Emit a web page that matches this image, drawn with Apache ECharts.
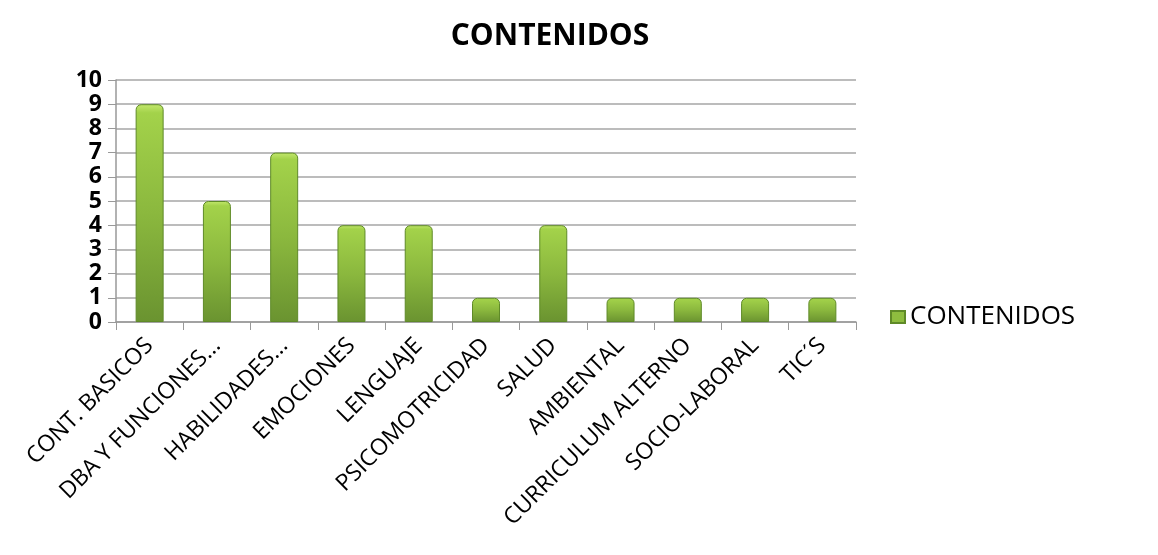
<!DOCTYPE html>
<html><head><meta charset="utf-8">
<script src="https://cdn.jsdelivr.net/npm/echarts@6/dist/echarts.min.js"></script>
<style>html,body{margin:0;padding:0;background:#fff}#c{width:1158px;height:555px}</style>
</head><body><div id="c"></div>
<script>
const categories = ['CONT. BASICOS','DBA Y FUNCIONES...','HABILIDADES...','EMOCIONES','LENGUAJE','PSICOMOTRICIDAD','SALUD','AMBIENTAL','CURRICULUM ALTERNO','SOCIO-LABORAL','TIC\u00B4S'];
const values = [9,5,7,4,4,1,4,1,1,1,1];
const seriesName = 'CONTENIDOS';
const titleText = 'CONTENIDOS';

const chart = echarts.init(document.getElementById('c'));
const barGrad = new echarts.graphic.LinearGradient(0,0,0,1,[
  {offset:0,color:'#c4e86e'},
  {offset:0.04,color:'#a3d24a'},
  {offset:0.5,color:'#8bb83e'},
  {offset:1,color:'#6a9330'}
]);
chart.setOption({
  backgroundColor:'#fff',
  animation:false,
  title:{text:titleText,left:545,textAlign:'center',top:16,textStyle:{fontFamily:'Open Sans',fontWeight:'bold',fontSize:30,color:'#000'}},
  legend:{data:[seriesName],left:885,top:299,itemWidth:14,itemHeight:12,itemGap:3,
    icon:'rect',itemStyle:{color:'#8ebd3f'},textStyle:{fontFamily:'Open Sans',fontSize:26,color:'#000'}},
  grid:{left:116,right:302,top:80,bottom:233,containLabel:false},
  xAxis:{type:'category',data:categories,
    axisLine:{lineStyle:{color:'#999',width:1.5}},
    axisTick:{show:true,alignWithLabel:false,length:8,lineStyle:{color:'#999'}},
    axisLabel:{rotate:45,interval:0,margin:20,fontFamily:'Open Sans',fontSize:23,color:'#000'}},
  yAxis:{type:'value',min:0,max:10,interval:1,
    axisLine:{show:true,lineStyle:{color:'#999',width:1.5}},
    axisTick:{show:true,length:8,inside:false,lineStyle:{color:'#999'}},
    splitLine:{lineStyle:{color:'#a6a6a6',width:1.5}},
    axisLabel:{margin:14,fontFamily:'Open Sans',fontSize:23,color:'#000',fontWeight:'bold',lineHeight:22}},
  series:[{name:seriesName,type:'bar',data:values,barWidth:28,
    itemStyle:{color:barGrad,borderColor:'#5f8a28',borderWidth:1,borderRadius:[5,5,0,0]}}]
});
</script></body></html>
